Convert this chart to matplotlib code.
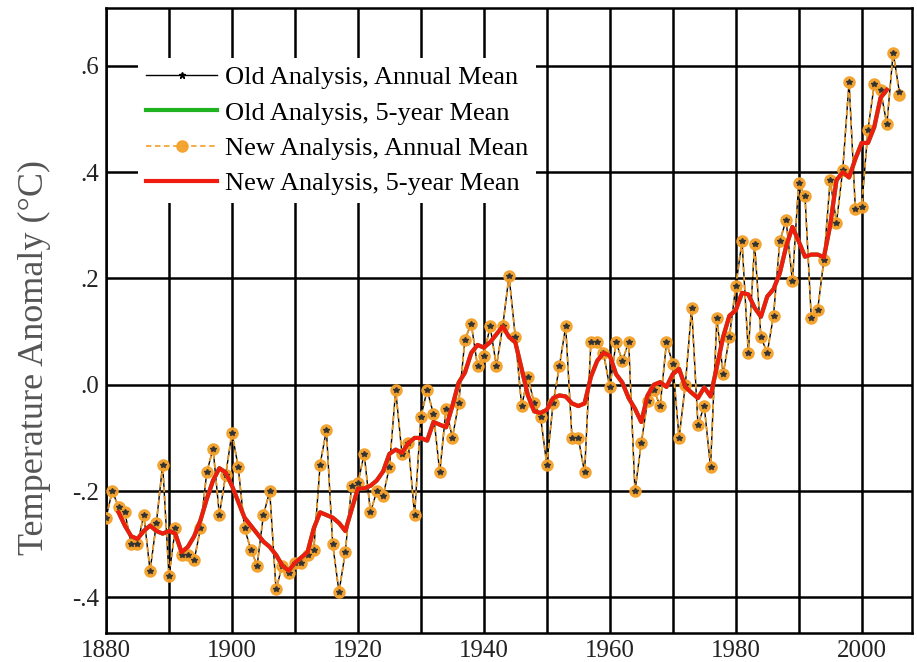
import numpy as np
import matplotlib
matplotlib.use('Agg')
import matplotlib.pyplot as plt

# annual mean temperature anomaly, 1880-2006
years = list(range(1880, 2007))
new_annual = [
    -0.25, -0.20, -0.23, -0.24, -0.30, -0.30, -0.245, -0.35, -0.26, -0.15,
    -0.36, -0.27, -0.32, -0.32, -0.33, -0.27, -0.165, -0.12, -0.245, -0.17,
    -0.09, -0.155, -0.27, -0.31, -0.34, -0.245, -0.20, -0.385, -0.34, -0.355,
    -0.335, -0.335, -0.32, -0.31, -0.15, -0.085, -0.30, -0.39, -0.315, -0.19,
    -0.185, -0.13, -0.24, -0.20, -0.21, -0.155, -0.01, -0.13, -0.11, -0.245,
    -0.06, -0.01, -0.055, -0.165, -0.045, -0.10, -0.035, 0.085, 0.115, 0.035,
    0.055, 0.11, 0.035, 0.11, 0.205, 0.09, -0.04, 0.015, -0.035, -0.06,
    -0.15, -0.035, 0.035, 0.11, -0.10, -0.10, -0.165, 0.08, 0.08, 0.06,
    -0.005, 0.08, 0.045, 0.08, -0.20, -0.11, -0.03, -0.01, -0.04, 0.08,
    0.04, -0.10, 0.00, 0.145, -0.075, -0.04, -0.155, 0.125, 0.02, 0.09,
    0.185, 0.27, 0.06, 0.265, 0.09, 0.06, 0.13, 0.27, 0.31, 0.195,
    0.38, 0.355, 0.125, 0.14, 0.235, 0.385, 0.305, 0.405, 0.57, 0.33,
    0.335, 0.48, 0.565, 0.555, 0.49, 0.625, 0.545,
]
# old analysis sits right under the new one in the picture
old_annual = [
    -0.25, -0.20, -0.23, -0.24, -0.30, -0.30, -0.245, -0.35, -0.26, -0.15,
    -0.36, -0.27, -0.32, -0.32, -0.33, -0.27, -0.165, -0.12, -0.245, -0.17,
    -0.09, -0.155, -0.27, -0.31, -0.34, -0.245, -0.20, -0.385, -0.34, -0.355,
    -0.335, -0.335, -0.32, -0.31, -0.15, -0.085, -0.30, -0.39, -0.315, -0.19,
    -0.185, -0.13, -0.24, -0.20, -0.21, -0.155, -0.01, -0.13, -0.11, -0.245,
    -0.06, -0.01, -0.055, -0.165, -0.045, -0.10, -0.035, 0.085, 0.115, 0.035,
    0.055, 0.11, 0.035, 0.11, 0.205, 0.09, -0.04, 0.015, -0.035, -0.06,
    -0.15, -0.035, 0.035, 0.11, -0.10, -0.10, -0.165, 0.08, 0.08, 0.06,
    -0.005, 0.08, 0.045, 0.08, -0.20, -0.11, -0.03, -0.01, -0.04, 0.08,
    0.04, -0.10, 0.00, 0.145, -0.075, -0.04, -0.155, 0.125, 0.02, 0.09,
    0.185, 0.27, 0.06, 0.265, 0.09, 0.06, 0.13, 0.27, 0.31, 0.195,
    0.38, 0.355, 0.125, 0.14, 0.235, 0.385, 0.305, 0.405, 0.57, 0.33,
    0.335, 0.48, 0.565, 0.555, 0.49, 0.625, 0.55,
]

# 5-year mean, 1882-2004
years5 = list(range(1882, 2005))
new_5yr = [
    -0.24, -0.265, -0.285, -0.29, -0.275, -0.265, -0.275, -0.28,
    -0.275, -0.28, -0.315, -0.305, -0.285, -0.255, -0.215, -0.18, -0.157, -0.165,
    -0.19, -0.22, -0.25, -0.265, -0.28, -0.295, -0.305, -0.32, -0.34, -0.35,
    -0.335, -0.325, -0.315, -0.27, -0.24, -0.245, -0.25, -0.26, -0.275, -0.235,
    -0.195, -0.195, -0.19, -0.18, -0.163, -0.13, -0.122, -0.128, -0.11, -0.10,
    -0.10, -0.105, -0.07, -0.075, -0.08, -0.04, 0.004, 0.023, 0.06, 0.075,
    0.07, 0.08, 0.095, 0.11, 0.09, 0.08, 0.03, -0.02, -0.05, -0.053,
    -0.047, -0.025, -0.02, -0.022, -0.035, -0.04, -0.035, 0.015, 0.045, 0.06,
    0.055, 0.02, 0.004, -0.025, -0.045, -0.07, -0.02, 0.0, 0.005, -0.004,
    0.02, 0.03, -0.004, -0.015, -0.025, -0.005, -0.022, 0.034, 0.09, 0.13,
    0.14, 0.173, 0.17, 0.145, 0.128, 0.166, 0.18, 0.21, 0.26, 0.297,
    0.27, 0.241, 0.245, 0.245, 0.24, 0.30, 0.385, 0.40, 0.39, 0.425,
    0.455, 0.455, 0.485, 0.54, 0.555,
]
old_5yr = list(new_5yr)

ytick_vals = [-0.4, -0.2, 0.0, 0.2, 0.4, 0.6]
ytick_labels = ['-.4', '-.2', '.0', '.2', '.4', '.6']
xtick_vals = [1880, 1900, 1920, 1940, 1960, 1980, 2000]

plt.rcParams['font.family'] = ['Liberation Serif', 'DejaVu Serif']

fig = plt.figure(figsize=(9.17, 6.62), dpi=100)
ax = fig.add_axes([0.1156, 0.0438, 0.879, 0.9442])

orange = '#f4a12a'
h1, = ax.plot(years, old_annual, color='black', lw=1.0, marker='*', ms=5,
              mfc='black', mec='black', zorder=3, label='Old Analysis, Annual Mean')
h3, = ax.plot(years, new_annual, color=orange, lw=1.3, ls=(0, (3, 2)),
              marker='o', ms=8, mfc=orange, mec=orange, alpha=0.95, zorder=4,
              label='New Analysis, Annual Mean')
ax.plot(years, old_annual, ls='none', marker='*', ms=4, color='#333333', zorder=5)
h2, = ax.plot(years5, old_5yr, color='#1fb31f', lw=3, zorder=6,
              label='Old Analysis, 5-year Mean')
h4, = ax.plot(years5, new_5yr, color='#ee1d10', lw=3, zorder=7,
              label='New Analysis, 5-year Mean')

ax.set_xlim(1880, 2008)
ax.set_ylim(-0.467, 0.709)
ax.set_xticks(xtick_vals)
ax.set_xticks(range(1890, 2001, 20), minor=True)
ax.set_yticks(ytick_vals)
ax.set_yticklabels(ytick_labels)
ax.grid(True, which='both', color='black', lw=1.8, zorder=1)
ax.set_axisbelow(True)
ax.tick_params(which='both', length=0, labelsize=18, colors='#222222', pad=5)
for s in ax.spines.values():
    s.set_linewidth(1.8)

ax.set_ylabel('Temperature Anomaly (°C)', fontsize=26, color='#555555')
ax.yaxis.set_label_coords(-0.068, 0.44)

leg = ax.legend(handles=[h1, h2, h3, h4], loc='upper left',
                bbox_to_anchor=(0.04, 0.92), fontsize=19, frameon=True,
                framealpha=1, edgecolor='none', facecolor='white', fancybox=False,
                handlelength=2.7, handletextpad=0.3, labelspacing=0.45,
                borderpad=0.3, borderaxespad=0)
leg.set_zorder(10)

fig.savefig('out.png', dpi=100)
